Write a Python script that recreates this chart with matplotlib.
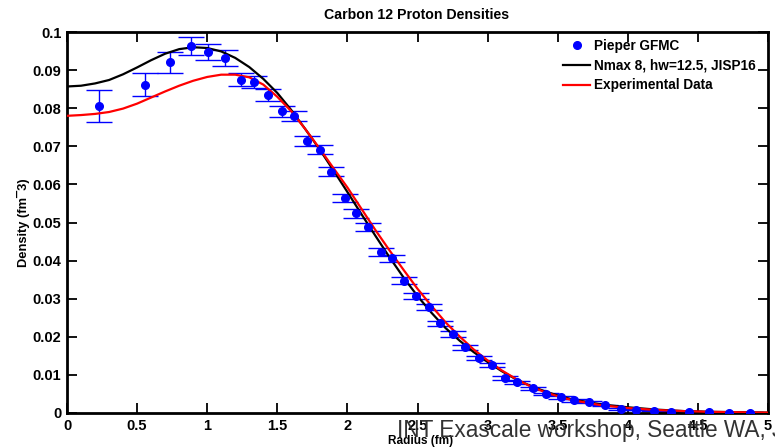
import matplotlib
matplotlib.use("Agg")
import matplotlib.pyplot as plt

plt.rcParams['font.family'] = ['Liberation Sans', 'DejaVu Sans']

# ---------- data ----------
# Nmax 8, hw=12.5, JISP16 (black curve)
r_nmax = [0.0, 0.1, 0.2, 0.3, 0.4, 0.5, 0.6, 0.7, 0.8, 0.9, 1.0, 1.1, 1.2, 1.3,
          1.4, 1.5, 1.6, 1.7, 1.8, 1.9, 2.0, 2.1, 2.2, 2.3, 2.4, 2.5, 2.6, 2.7,
          2.8, 2.9, 3.0, 3.1, 3.2, 3.3, 3.4, 3.5, 3.6, 3.8, 4.0, 4.2, 4.4, 4.6,
          4.8, 5.0]
rho_nmax = [0.0857, 0.0859, 0.0865, 0.0874, 0.0889, 0.0907, 0.0926, 0.0943,
            0.0955, 0.0960, 0.0958, 0.0949, 0.0932, 0.0908, 0.0877, 0.0840,
            0.0795, 0.0745, 0.0693, 0.0637, 0.0580, 0.0522, 0.0465, 0.0409,
            0.0356, 0.0307, 0.0263, 0.0223, 0.0190, 0.0160, 0.0134, 0.0110,
            0.0089, 0.0072, 0.0058, 0.0046, 0.0036, 0.0023, 0.0015, 0.0009,
            0.0005, 0.0003, 0.0002, 0.0001]

# Experimental data (red curve)
r_exp = r_nmax
rho_exp = [0.0780, 0.0782, 0.0785, 0.0790, 0.0799, 0.0812, 0.0828, 0.0844,
           0.0859, 0.0872, 0.0882, 0.0888, 0.0888, 0.0881, 0.0862, 0.0830,
           0.0792, 0.0745, 0.0695, 0.0643, 0.0592, 0.0536, 0.0480, 0.0427,
           0.0376, 0.0326, 0.0281, 0.0238, 0.0201, 0.0167, 0.0138, 0.0112,
           0.0090, 0.0071, 0.0056, 0.0044, 0.0034, 0.0021, 0.0013, 0.0008,
           0.0005, 0.0003, 0.0002, 0.0001]

# Pieper GFMC points
r_gfmc = [0.228, 0.559, 0.738, 0.884, 1.009, 1.127, 1.238, 1.334, 1.436, 1.532,
          1.622, 1.711, 1.801, 1.886, 1.982, 2.060, 2.150, 2.237, 2.315, 2.402,
          2.492, 2.584, 2.662, 2.756, 2.838, 2.937, 3.032, 3.121, 3.209, 3.322,
          3.416, 3.522, 3.616, 3.722, 3.835, 3.953, 4.060, 4.190, 4.310, 4.440,
          4.580, 4.720, 4.870]
rho_gfmc = [0.0806, 0.0862, 0.0920, 0.0964, 0.0948, 0.0932, 0.0875, 0.0869,
            0.0835, 0.0792, 0.0779, 0.0714, 0.0691, 0.0633, 0.0565, 0.0524,
            0.0489, 0.0423, 0.0406, 0.0347, 0.0307, 0.0279, 0.0235, 0.0207,
            0.0172, 0.0144, 0.0126, 0.0091, 0.0081, 0.0065, 0.0049, 0.0041,
            0.0033, 0.0029, 0.0020, 0.0011, 0.0009, 0.0006, 0.0003, 0.0003,
            0.0002, 0.0001, 0.0001]
err_gfmc = [0.0042, 0.0030, 0.0027, 0.0024, 0.0021, 0.0020, 0.0018, 0.0016,
            0.0015, 0.0014, 0.0013, 0.0013, 0.0012, 0.0012, 0.0011, 0.0011,
            0.0010, 0.0010, 0.0009, 0.0009, 0.0008, 0.0008, 0.0007, 0.0007,
            0.0006, 0.0006, 0.0005, 0.0005, 0.0004, 0.0004, 0.0003, 0.0003,
            0.0003, 0.0002, 0.0002, 0.0002, 0.0001, 0.0001, 0.0001, 0.0001,
            0.0001, 0.0001, 0.0001]

x_ticks = [0, 0.5, 1, 1.5, 2, 2.5, 3, 3.5, 4, 4.5, 5]
x_labels = ["0", "0.5", "1", "1.5", "2", "2.5", "3", "3.5", "4", "4.5", "5"]
y_ticks = [0, 0.01, 0.02, 0.03, 0.04, 0.05, 0.06, 0.07, 0.08, 0.09, 0.1]
y_labels = ["0", "0.01", "0.02", "0.03", "0.04", "0.05", "0.06", "0.07",
            "0.08", "0.09", "0.1"]

W, H = 775, 447
fig = plt.figure(figsize=(W / 100, H / 100), dpi=100)
ax = fig.add_axes([67 / W, 1 - 413 / H, (768 - 67) / W, (413 - 32) / H])

ax.errorbar(r_gfmc, rho_gfmc, yerr=err_gfmc, fmt="none", ecolor="#0000ff",
            elinewidth=1.0, capsize=9.5, capthick=1.0, zorder=2)
ax.plot(r_gfmc, rho_gfmc, "o", color="#0000ff", markersize=5.5,
        label="Pieper GFMC", zorder=4)
ax.plot(r_nmax, rho_nmax, color="black", lw=1.6,
        label="Nmax 8, hw=12.5, JISP16", zorder=3)
ax.plot(r_exp, rho_exp, color="#ff0000", lw=1.6,
        label="Experimental Data", zorder=3)

ax.set_xlim(0, 5)
ax.set_ylim(0, 0.1)
ax.set_xticks(x_ticks)
ax.set_xticklabels(x_labels)
ax.set_yticks(y_ticks)
ax.set_yticklabels(y_labels)
ax.tick_params(direction="in", length=7, width=1.3, top=True, right=True,
               labelsize=10.5, pad=4)
for lab in ax.get_xticklabels() + ax.get_yticklabels():
    lab.set_fontweight("bold")
for sp in ax.spines.values():
    sp.set_linewidth(2)

ax.set_ylabel("Density (fm¯3)", fontsize=9.3, fontweight="bold", labelpad=2)

fig.text(421 / W, 1 - 441 / H, "Radius (fm)", fontsize=8.5,
         fontweight="bold", ha="center", va="center")
fig.text(417 / W, 1 - 15 / H, "Carbon 12 Proton Densities",
         fontsize=10.2, fontweight="bold", ha="center", va="center")

leg = ax.legend(loc="upper left", bbox_to_anchor=(563 / W, 1 - 39 / H),
                bbox_transform=fig.transFigure, frameon=False,
                borderpad=0, borderaxespad=0, handlelength=2.0,
                handletextpad=0.25, labelspacing=0.42, fontsize=9.8)
for t in leg.get_texts():
    t.set_fontweight("bold")

# slide footer that runs off the right edge, as in the reference
fig.text(397 / W, 1 - 437 / H, "INT Exascale workshop, Seattle WA, June",
         fontsize=16.3, color="#333333", ha="left", va="baseline")

fig.savefig("out.png", dpi=100)
